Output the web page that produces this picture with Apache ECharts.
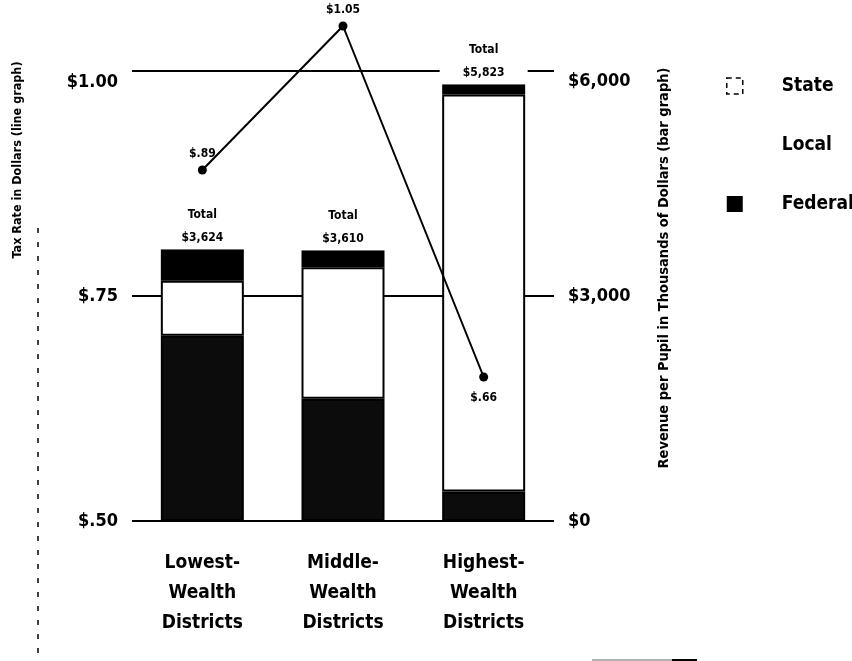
<!DOCTYPE html>
<html>
<head>
<meta charset="utf-8">
<title>School Revenue and Tax Rate by District Wealth</title>
<script src="https://cdn.jsdelivr.net/npm/echarts@6/dist/echarts.min.js"></script>
<style>
  html, body { margin: 0; padding: 0; background: #fff; }
  #chart { width: 852px; height: 661px; }
</style>
</head>
<body>
<div id="chart"></div>
<script>
// District groups along the horizontal axis
const categories = ['Lowest-\nWealth\nDistricts', 'Middle-\nWealth\nDistricts', 'Highest-\nWealth\nDistricts'];

// Revenue per pupil by source, dollars (stacked bars)
const stateRevenue = [2471, 1630, 392];
const localRevenue = [733, 1752, 5296];
const federalRevenue = [420, 228, 135];
const totalRevenue = [3624, 3610, 5823];

// Tax rate in dollars (line)
const taxRate = [0.89, 1.05, 0.66];

// Axis tick labels
const rateTicks = ['$.50', '$.75', '$1.00'];
const revenueTicks = ['$0', '$3,000', '$6,000'];

const FONT = '"Liberation Sans Narrow", "DejaVu Sans Condensed", "Roboto", sans-serif';

function money(v) {
  return '$' + v.toLocaleString('en-US');
}
function rate(v) {
  return '$' + v.toFixed(2).replace(/^0/, '');
}

const chart = echarts.init(document.getElementById('chart'), null, { renderer: 'canvas' });

const option = {
  backgroundColor: '#ffffff',
  animation: false,
  textStyle: { fontFamily: FONT, color: '#000' },
  grid: { left: 132, right: 298, top: 71, bottom: 140 },
  legend: {
    orient: 'vertical',
    left: 721,
    top: 71,
    icon: 'rect',
    itemWidth: 16,
    itemHeight: 16,
    itemGap: 39,
    selectedMode: false,
    textStyle: {
      fontFamily: FONT, fontWeight: 'bold', fontSize: 19, color: '#000',
      lineHeight: 20, padding: [0, 0, 0, 34]
    },
    data: [
      { name: 'State', itemStyle: { color: '#fff', borderColor: '#000', borderWidth: 1.5, borderType: [5, 4] } },
      { name: 'Local', itemStyle: { color: '#fff', borderWidth: 0 } },
      { name: 'Federal', itemStyle: { color: '#000', borderWidth: 0 } }
    ]
  },
  xAxis: {
    type: 'category',
    data: categories,
    axisLine: { show: false },
    axisTick: { show: false },
    axisLabel: {
      margin: 27,
      fontFamily: FONT, fontWeight: 'bold', fontSize: 19, lineHeight: 30, color: '#000'
    }
  },
  yAxis: [
    {
      type: 'value',
      min: 0.5,
      max: 1.0,
      interval: 0.25,
      axisLine: { show: false },
      axisTick: { show: false },
      splitLine: { show: true, lineStyle: { color: '#000', width: 2 } },
      axisLabel: {
        margin: 14,
        fontFamily: FONT, fontWeight: 'bold', fontSize: 18, color: '#000',
        formatter: function (v) {
          const t = rateTicks[Math.round((v - 0.5) / 0.25)];
          return v >= 1 ? '{low|' + t + '}' : t;
        },
        rich: {
          low: { fontFamily: FONT, fontWeight: 'bold', fontSize: 18, color: '#000', padding: [22, 0, 0, 0] }
        }
      }
    },
    {
      type: 'value',
      min: 0,
      max: 6000,
      interval: 3000,
      position: 'right',
      axisLine: { show: false },
      axisTick: { show: false },
      splitLine: { show: false },
      axisLabel: {
        margin: 14,
        fontFamily: FONT, fontWeight: 'bold', fontSize: 18, color: '#000',
        formatter: function (v) {
          const t = revenueTicks[Math.round(v / 3000)];
          return v >= 6000 ? '{low|' + t + '}' : t;
        },
        rich: {
          low: { fontFamily: FONT, fontWeight: 'bold', fontSize: 18, color: '#000', padding: [20, 0, 0, 0] }
        }
      }
    }
  ],
  series: [
    {
      name: 'State',
      type: 'bar',
      stack: 'revenue',
      yAxisIndex: 1,
      barWidth: 83,
      data: stateRevenue,
      itemStyle: { color: '#0c0c0c', borderColor: '#000', borderWidth: 2 }
    },
    {
      name: 'Local',
      type: 'bar',
      stack: 'revenue',
      yAxisIndex: 1,
      barWidth: 83,
      data: localRevenue,
      itemStyle: { color: '#fff', borderColor: '#000', borderWidth: 2 }
    },
    {
      name: 'Federal',
      type: 'bar',
      stack: 'revenue',
      yAxisIndex: 1,
      barWidth: 83,
      data: federalRevenue,
      itemStyle: { color: '#000', borderColor: '#000', borderWidth: 2 },
      label: {
        show: true,
        position: 'top',
        distance: 0,
        width: 88,
        align: 'center',
        backgroundColor: '#fff',
        fontFamily: FONT, fontWeight: 'bold', fontSize: 12, lineHeight: 23, color: '#000',
        formatter: function (p) { return 'Total\n' + money(totalRevenue[p.dataIndex]); }
      }
    },
    {
      name: 'Tax Rate',
      type: 'line',
      yAxisIndex: 0,
      z: 5,
      clip: false,
      data: taxRate.map(function (v, i) {
        return { value: v, label: { position: i === 2 ? 'bottom' : 'top', distance: i === 2 ? 10 : 6 } };
      }),
      symbol: 'circle',
      symbolSize: 9,
      itemStyle: { color: '#000' },
      lineStyle: { color: '#000', width: 2 },
      label: {
        show: true,
        fontFamily: FONT, fontWeight: 'bold', fontSize: 12, color: '#000',
        formatter: function (p) { return rate(p.value); }
      }
    }
  ],
  graphic: [
    {
      type: 'text',
      x: 18,
      y: 160,
      rotation: Math.PI / 2,
      style: {
        text: 'Tax Rate in Dollars (line graph)',
        fontFamily: FONT, fontWeight: 'bold', fontSize: 12.5, fill: '#000',
        textAlign: 'center', textVerticalAlign: 'middle'
      }
    },
    {
      type: 'text',
      x: 664,
      y: 268,
      rotation: Math.PI / 2,
      style: {
        text: 'Revenue per Pupil in Thousands of Dollars (bar graph)',
        fontFamily: FONT, fontWeight: 'bold', fontSize: 14.5, fill: '#000',
        textAlign: 'center', textVerticalAlign: 'middle'
      }
    },
    {
      type: 'line',
      shape: { x1: 38, y1: 228, x2: 38, y2: 661 },
      style: { stroke: '#000', lineWidth: 1.5, lineDash: [5, 9] }
    },
    {
      type: 'line',
      shape: { x1: 592, y1: 660, x2: 672, y2: 660 },
      style: { stroke: '#666', lineWidth: 1.2 }
    },
    {
      type: 'line',
      shape: { x1: 672, y1: 660, x2: 697, y2: 660 },
      style: { stroke: '#000', lineWidth: 2 }
    }
  ]
};

chart.setOption(option);
</script>
</body>
</html>
